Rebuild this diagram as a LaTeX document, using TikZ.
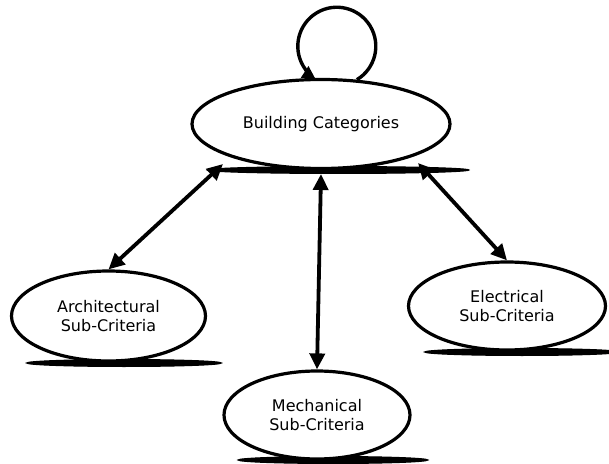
\documentclass[tikz,border=0pt]{standalone}
\usepackage{fontspec}
\setmainfont{DejaVu Sans}
\usetikzlibrary{shapes.geometric,arrows.meta,calc}
\begin{document}
\begin{tikzpicture}[x=1pt,y=1pt,
  bubble/.style={ellipse,draw=black,line width=3.2pt,fill=white,inner sep=0pt,
    align=center,font=\fontsize{16}{19}\selectfont},
  base/.style={ellipse,fill=black,draw=black,line width=1pt,inner sep=0pt,minimum height=7pt},
  tip/.style={Triangle[length=16pt,width=15pt]},
  link/.style={line width=3.8pt,{Triangle[length=16pt,width=15pt]}-{Triangle[length=16pt,width=15pt]}},
  selflink/.style={line width=3.4pt,-{Triangle[length=13pt,width=13pt]}}]
\useasboundingbox (0,0) rectangle (609,463);

% dark bases under each category
\node[base,minimum width=262pt] (bcbase) at (338,293) {};
\node[base,minimum width=195pt] (archbase) at (124,100) {};
\node[base,minimum width=195pt] (elecbase) at (522,111) {};
\node[base,minimum width=190pt] (mechbase) at (333,3) {};

% category nodes
\node[bubble,minimum width=258pt,minimum height=89pt] (bc) at (321,339) {Building Categories};
\node[bubble,minimum width=194pt,minimum height=90pt] (arch) at (108.5,147) {Architectural\\Sub-Criteria};
\node[bubble,minimum width=197pt,minimum height=88pt] (elec) at (507,157) {Electrical\\Sub-Criteria};
\node[bubble,minimum width=186pt,minimum height=88pt] (mech) at (317,48) {Mechanical\\Sub-Criteria};

% self loop on the top node
\draw[selflink] (bc.51) arc[start angle=-59,end angle=237,radius=39];

% two-way links
\draw[link] ($(bc.center)+(-98,-40)$) -- (arch.north);
\draw[link] ($(bc.center)+(0,-50)$) -- (mech.north);
\draw[link] ($(bc.center)+(97,-39)$) -- (elec.north);
\end{tikzpicture}
\end{document}
